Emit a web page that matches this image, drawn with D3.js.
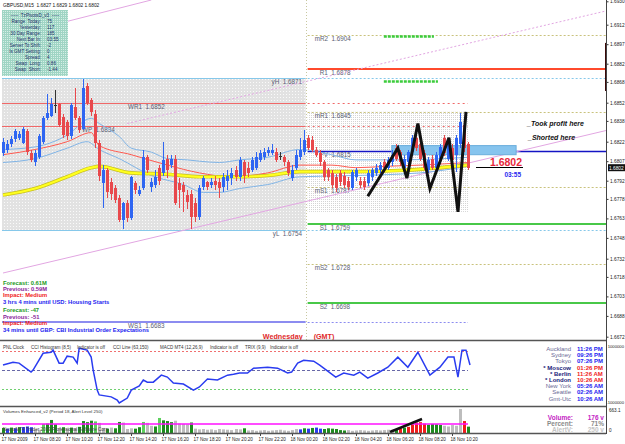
<!DOCTYPE html>
<html>
<head>
<meta charset="utf-8">
<script src="https://cdn.jsdelivr.net/npm/d3@7"></script>
<style>
  html, body { margin: 0; padding: 0; background: #fff; }
  svg { display: block; font-family: "Liberation Sans", Arial, sans-serif; }
</style>
</head>
<body>
<div id="chart"></div>
<script>
/* GBPUSD M15 with TzPivots, clocks and volume panes */

// ---- data -------------------------------------------------------------
// [open, high, low, close], one row per 15 min bar
const candles = [
  [1.6813,1.6825,1.6811,1.6822],[1.6816,1.6823,1.6813,1.6820],[1.6820,1.6826,1.6818,1.6824],[1.6824,1.6832,1.6822,1.6830],
  [1.6825,1.6830,1.6823,1.6828],[1.6821,1.6833,1.6820,1.6832],[1.6830,1.6832,1.6812,1.6814],[1.6813,1.6816,1.6806,1.6808],
  [1.6806,1.6816,1.6803,1.6813],[1.6810,1.6828,1.6809,1.6826],[1.6822,1.6842,1.6820,1.6840],[1.6840,1.6859,1.6839,1.6844],
  [1.6842,1.6856,1.6841,1.6851],[1.6850,1.6862,1.6844,1.6850],[1.6851,1.6852,1.6833,1.6835],[1.6841,1.6843,1.6825,1.6827],
  [1.6837,1.6839,1.6823,1.6826],[1.6826,1.6852,1.6824,1.6850],[1.6849,1.6863,1.6839,1.6840],[1.6840,1.6842,1.6829,1.6831],
  [1.6832,1.6870,1.6831,1.6863],[1.6865,1.6867,1.6850,1.6852],[1.6854,1.6856,1.6842,1.6845],[1.6843,1.6846,1.6817,1.6821],
  [1.6821,1.6823,1.6792,1.6796],[1.6790,1.6804,1.6771,1.6800],[1.6800,1.6802,1.6779,1.6783],[1.6791,1.6794,1.6777,1.6782],
  [1.6786,1.6789,1.6775,1.6777],[1.6779,1.6781,1.6760,1.6762],[1.6762,1.6776,1.6755,1.6775],[1.6775,1.6777,1.6760,1.6763],
  [1.6763,1.6796,1.6762,1.6795],[1.6790,1.6792,1.6782,1.6785],[1.6782,1.6788,1.6780,1.6785],[1.6786,1.6816,1.6785,1.6810],
  [1.6810,1.6812,1.6798,1.6800],[1.6787,1.6794,1.6783,1.6791],[1.6789,1.6800,1.6786,1.6795],[1.6802,1.6804,1.6789,1.6792],
  [1.6798,1.6822,1.6796,1.6808],[1.6809,1.6812,1.6794,1.6800],[1.6804,1.6812,1.6802,1.6809],[1.6809,1.6812,1.6773,1.6775],
  [1.6790,1.6794,1.6771,1.6785],[1.6789,1.6791,1.6768,1.6783],[1.6781,1.6785,1.6770,1.6776],[1.6782,1.6785,1.6755,1.6764],
  [1.6775,1.6779,1.6760,1.6764],[1.6764,1.6789,1.6762,1.6786],[1.6787,1.6796,1.6785,1.6794],[1.6791,1.6792,1.6785,1.6787],
  [1.6789,1.6794,1.6786,1.6791],[1.6792,1.6796,1.6785,1.6789],[1.6791,1.6794,1.6779,1.6786],[1.6787,1.6798,1.6783,1.6795],
  [1.6792,1.6800,1.6785,1.6796],[1.6794,1.6802,1.6789,1.6798],[1.6800,1.6803,1.6792,1.6795],[1.6795,1.6810,1.6792,1.6808],
  [1.6806,1.6808,1.6790,1.6796],[1.6802,1.6806,1.6795,1.6798],[1.6800,1.6810,1.6799,1.6808],[1.6802,1.6814,1.6800,1.6810],
  [1.6808,1.6816,1.6806,1.6813],[1.6810,1.6817,1.6808,1.6814],[1.6813,1.6818,1.6811,1.6816],[1.6813,1.6820,1.6812,1.6816],
  [1.6814,1.6817,1.6806,1.6808],[1.6811,1.6814,1.6808,1.6811],[1.6810,1.6812,1.6803,1.6806],[1.6806,1.6808,1.6796,1.6798],
  [1.6794,1.6804,1.6792,1.6800],[1.6802,1.6816,1.6800,1.6812],[1.6810,1.6825,1.6808,1.6816],[1.6814,1.6831,1.6812,1.6823],
  [1.6825,1.6827,1.6816,1.6817],[1.6823,1.6826,1.6814,1.6816],[1.6816,1.6818,1.6810,1.6812],[1.6813,1.6816,1.6803,1.6806],
  [1.6806,1.6808,1.6792,1.6795],[1.6800,1.6802,1.6792,1.6795],[1.6798,1.6800,1.6786,1.6789],[1.6795,1.6797,1.6783,1.6786],
  [1.6798,1.6800,1.6788,1.6791],[1.6796,1.6799,1.6786,1.6789],[1.6792,1.6795,1.6785,1.6787],[1.6786,1.6800,1.6785,1.6799],
  [1.6795,1.6802,1.6792,1.6800],[1.6792,1.6795,1.6786,1.6789],[1.6792,1.6795,1.6785,1.6787],[1.6790,1.6800,1.6788,1.6798],
  [1.6795,1.6802,1.6792,1.6800],[1.6798,1.6805,1.6796,1.6802],[1.6800,1.6806,1.6798,1.6804],[1.6806,1.6809,1.6800,1.6802],
  [1.6802,1.6810,1.6800,1.6808],[1.6806,1.6816,1.6803,1.6812],[1.6817,1.6820,1.6807,1.6809],[1.6814,1.6816,1.6803,1.6806],
  [1.6802,1.6812,1.6800,1.6809],[1.6806,1.6816,1.6803,1.6814],[1.6814,1.6827,1.6812,1.6825],[1.6825,1.6827,1.6815,1.6817],
  [1.6820,1.6822,1.6807,1.6809],[1.6813,1.6816,1.6800,1.6802],[1.6800,1.6810,1.6798,1.6808],[1.6809,1.6812,1.6800,1.6802],
  [1.6802,1.6814,1.6800,1.6812],[1.6809,1.6820,1.6807,1.6818],[1.6825,1.6827,1.6811,1.6813],[1.6809,1.6822,1.6807,1.6820],
  [1.6817,1.6820,1.6806,1.6808],[1.6812,1.6827,1.6799,1.6825],[1.6820,1.6844,1.6817,1.6837],[1.6835,1.6837,1.6814,1.6817],
  [1.6820,1.6822,1.6800,1.6802]
];

const timeTickBars = [0, 8, 16, 24, 32, 40, 48, 56, 64, 72, 80, 88, 96, 104, 112];
const timeTickLabels = ["17 Nov 2009", "17 Nov 08:20", "17 Nov 10:20", "17 Nov 12:20", "17 Nov 14:20",
  "17 Nov 16:20", "17 Nov 18:20", "17 Nov 20:20", "17 Nov 22:20", "18 Nov 00:20", "18 Nov 02:20",
  "18 Nov 04:20", "18 Nov 06:20", "18 Nov 08:20", "18 Nov 10:20"];
const priceTicks = [1.6930, 1.6912, 1.6897, 1.6882, 1.6868, 1.6852, 1.6838, 1.6822, 1.6807, 1.6792,
  1.6778, 1.6763, 1.6748, 1.6732, 1.6718, 1.6703, 1.6688, 1.6672];
const dayBreakBar = 75.5;

// today's pivots (TzPivotsD)
const pivotNames = ["mR2", "R1", "mR1", "PV", "mS1", "S1", "mS2", "S2"];
const pivotValues = [1.6904, 1.6878, 1.6845, 1.6815, 1.6787, 1.6759, 1.6728, 1.6698];
// yesterday / weekly levels
const prevNames = ["yH", "WR1", "WP", "yL", "WS1"];
const prevValues = [1.6871, 1.6852, 1.6834, 1.6754, 1.6683];
const todayRange = [1.6845, 1.6768];

// moving averages, read as [bar, price]
const maSlow = [[0,1.6781],[8,1.6786],[16,1.6795],[22,1.6802],[24,1.6803],[32,1.6798],[41,1.6797],[49,1.6795],
  [58,1.6795],[66,1.6796],[74,1.6799],[88,1.6799],[100,1.6800],[116,1.6804]];
const maMid = [[0,1.6812],[8,1.6816],[16,1.6822],[22,1.6829],[24,1.6819],[32,1.6812],[41,1.6804],[49,1.6798],
  [57,1.6795],[66,1.6798],[74,1.6804],[82,1.6804],[88,1.6802],[95,1.6803],[104,1.6804],[116,1.6806]];
const bandUpper = [[0,1.6816],[8,1.6818],[16,1.6827],[22,1.6840],[24,1.6836],[29,1.6826],[32,1.6817],[37,1.6814],
  [41,1.6809],[46,1.6808],[49,1.6807],[54,1.6806],[59,1.6808],[66,1.6810],[74,1.6816],[82,1.6812],[88,1.6808],
  [99,1.6808],[116,1.6810]];
const bandLower = [[0,1.6806],[8,1.6809],[16,1.6817],[21,1.6822],[24,1.6816],[29,1.6809],[37,1.6796],[45,1.6789],
  [50,1.6783],[54,1.6783],[59,1.6786],[66,1.6789],[74,1.6795],[88,1.6796],[104,1.6798],[116,1.6803]];

// drawn objects
const trendUpper = [[31, 1.6836], [151, 1.6923]];
const trendLower = [[0, 1.6721], [151, 1.6831]];
const trendTop = [[0, 1.6902], [37, 1.6931]];
const zigzag = [[91,1.6780],[98.5,1.6817],[100.75,1.6794],[103.5,1.6836],[106.5,1.6786],[111.25,1.6825],
  [113.5,1.6768],[115.5,1.6845]];
const targetSegments = [[95, 107.5, 1.6903], [95, 108.5, 1.6869]];
const entryZone = [97, 128, 1.6819, 1.6812];
const rangeBar = [1.6898, 1.6861];

// lower pane: CCI line, [bar, value]
const cciPoints = [[0,26],[2.5,41],[4,36],[7,-10],[7.5,0],[10,87],[12,92],[12.5,103],[14,36],[15,36],[16,72],
  [17.5,67],[18.5,36],[19,113],[21,103],[22,67],[22.5,0],[23.5,-103],[24,-128],[27,-138],[28.5,-154],[29,-169],
  [31,-144],[32,-103],[34,-82],[35,-51],[36,-62],[37.5,-62],[39.5,-26],[41,-36],[42.5,-67],[45,-72],[47.5,-103],
  [49,-87],[51,-46],[53.5,-51],[56,-26],[57.5,-21],[59,-15],[61,-15],[62.5,10],[66,15],[68.5,10],[71,-15],
  [72,-10],[73.5,36],[75,51],[77.5,46],[79,26],[83,-36],[85,-15],[87.5,-26],[89,-10],[91,-41],[93.5,-15],
  [96,15],[98.5,67],[101,15],[103.5,92],[106.5,-26],[109,15],[111,67],[112.5,67],[113.5,-36],[114.5,103],
  [115.5,103],[116.5,26]];
const cciLevels = [100, 0, -100];

// volumes and their class (g up, l light up, b blue, s small, r down)
const volumes = [140,120,150,130,160,165,180,160,100,90,250,260,360,240,140,160,120,150,130,170,
  330,300,340,320,280,140,120,150,130,305,290,110,130,120,160,305,280,200,180,415,350,330,300,340,
  260,250,240,290,120,100,110,90,100,80,110,100,90,80,110,100,130,70,80,60,70,80,60,70,80,90,70,
  60,80,110,100,130,120,140,150,120,110,130,120,110,80,70,80,60,70,80,70,60,70,80,70,80,90,90,110,
  130,150,170,240,290,300,260,230,250,240,220,200,180,220,200,663,330,176];
const volClass = "gbgbgbbbsslgggsgsgsgggglssgsggsssgglssglgggssssgssssssssssssgsssssssssssssbgbgbbggggggssssssssssssgrgrrrrrggggsssssrgs".split("");
const alertLevel = 250;

// text panels
const infoLabels = ["Range  Today:", "Yesterday:", "30 Day Range:", "Next Bar In:", "Server To Shift:",
  "Is GMT Setting:", "Spread:", "Swap  Long:", "Swap  Short:"];
const infoValues = ["75", "117", "185", "03:55", "-2", "0", "4", "0.86", "-1.44"];
const newsLines = ["Forecast: 0.61M", "Previous: 0.59M", "Impact: Medium", "3 hrs 4 mins until USD: Housing Starts",
  "Forecast: -47", "Previous: -51", "Impact: Medium", "34 mins until GBP: CBI Industrial Order Expectations"];
const newsKinds = ["f", "p", "i", "e", "f", "p", "i", "e"];
const clockCities = ["Auckland", "Sydney", "Tokyo", "* Moscow", "* Berlin", "* London", "New York", "Seattle", "Gmt-Utc"];
const clockTimes = ["11:26 PM", "09:26 PM", "07:26 PM", "01:26 PM", "11:26 AM", "10:26 AM", "05:26 AM", "02:26 AM", "10:26 AM"];
const paneTitles = ["PNL Clock", "CCI Histogram (8,5)", "Indicator is off", "CCI Line (63,150)",
  "MACD MT4 (12,26,9)", "Indicator is off", "TRIX (9,9)", "Indicator is off"];
const volStatNames = ["Volume:", "Percent:", "AlertV:"];
const volStatValues = ["176 v", "71%", "250 v"];

// ---- layout -----------------------------------------------------------
const W = 625, H = 444;
const axisX = 606;
const mainBottom = 340, pane1 = [342, 405], pane2 = [409, 433];
const FONT = "'Liberation Sans', Arial, sans-serif";

const svg = d3.select("#chart").append("svg")
  .attr("width", W).attr("height", H)
  .style("font-family", FONT);
const defs = svg.append("defs");

function dots(id, bg, dot, step) {
  const p = defs.append("pattern").attr("id", id)
    .attr("width", step).attr("height", step).attr("patternUnits", "userSpaceOnUse");
  p.append("rect").attr("width", step).attr("height", step).attr("fill", bg);
  p.append("rect").attr("x", 1).attr("y", 1).attr("width", 1).attr("height", 1).attr("fill", dot);
}
dots("ydayFill", "#e2e2e2", "#fafafa", 3);
dots("todayFill", "#ffffff", "#d4d4d4", 2);
dots("infoFill", "#9fd5c4", "#d6efe7", 2);

defs.append("clipPath").attr("id", "mainClip")
  .append("rect").attr("x", 0).attr("y", 0).attr("width", axisX).attr("height", mainBottom);

const x = d3.scaleLinear().domain([0, candles.length - 1]).range([3, 468]);
const y = d3.scaleLinear().domain([1.6672, 1.6930]).range([336.7, 1.3]);
const yCci = d3.scaleLinear().domain([-180, 145]).range([pane1[1], pane1[0]]);
const yVol = d3.scaleLinear().domain([0, 663]).range([pane2[1], pane2[0]]);

const main = svg.append("g").attr("clip-path", "url(#mainClip)");
const sepX = x(dayBreakBar);
const lastX = x(candles.length - 1);

// Range boxes
main.append("rect")
  .attr("x", x(-0.25)).attr("y", y(prevValues[0]))
  .attr("width", sepX - x(-0.25)).attr("height", y(prevValues[3]) - y(prevValues[0]))
  .attr("fill", "url(#ydayFill)");
main.append("rect")
  .attr("x", sepX + 2).attr("y", y(todayRange[0]))
  .attr("width", lastX - sepX - 2).attr("height", y(todayRange[1]) - y(todayRange[0]))
  .attr("fill", "url(#todayFill)");

// Day separator
main.append("line")
  .attr("x1", Math.round(sepX) + 0.5).attr("x2", Math.round(sepX) + 0.5)
  .attr("y1", 0).attr("y2", mainBottom)
  .attr("stroke", "#c8c8a0").attr("stroke-dasharray", "1,2");

function hline(v, x0, x1, color, width, dash) {
  const yy = Math.round(y(v)) + (width % 2 ? 0.5 : 0);
  main.append("line")
    .attr("x1", x0).attr("x2", x1).attr("y1", yy).attr("y2", yy)
    .attr("stroke", color).attr("stroke-width", width)
    .attr("stroke-dasharray", dash || null);
}
function levelLabel(txt, v, xx, anchor) {
  main.append("text")
    .attr("x", xx).attr("y", Math.round(y(v)) + 6)
    .attr("text-anchor", anchor || "start")
    .attr("font-size", 6.3).attr("fill", "#5a6074")
    .attr("xml:space", "preserve")
    .text(txt);
}

// Yesterday / weekly levels
const prevStyle = {
  yH: { c: "#86c8ea", w: 1, far: axisX, farDash: "2,2" },
  yL: { c: "#86c8ea", w: 1, far: axisX, farDash: "2,2" },
  WR1: { c: "#f06868", w: 1, far: lastX, farDash: "2,3" },
  WP: { c: "#f06868", w: 1, far: lastX, farDash: "2,3" },
  WS1: { c: "#8c8cf0", w: 2, far: lastX, farDash: "2,2" }
};
const prevLabelPos = { yH: [302, "end"], yL: [302, "end"], WR1: [128, "start"], WP: [82, "start"], WS1: [128, "start"] };
prevNames.forEach((n, i) => {
  const s = prevStyle[n];
  hline(prevValues[i], x(-0.25), sepX, s.c, s.w);
  hline(prevValues[i], sepX + 2, s.far, s.c, 1, s.farDash);
  levelLabel(`${n}  ${prevValues[i].toFixed(4)}`, prevValues[i], prevLabelPos[n][0], prevLabelPos[n][1]);
});

// Today's pivot levels
const khaki = { c: "#c9c27c", w: 1, dash: "2,2" };
const pivotStyle = {
  mR2: khaki, mR1: khaki, mS1: khaki, mS2: khaki,
  R1: { c: "#ff4a2c", w: 2 },
  PV: { c: "#1414c4", w: 1.5 },
  S1: { c: "#48c848", w: 2 },
  S2: { c: "#48c848", w: 2 }
};
pivotNames.forEach((n, i) => {
  const s = pivotStyle[n];
  hline(pivotValues[i], sepX + 2, axisX, s.c, s.w, s.dash);
  levelLabel(`${n}  ${pivotValues[i].toFixed(4)}`, pivotValues[i], n[0] === "m" ? sepX + 9 : sepX + 14);
});

// Trend lines
function seg(pts, color, dash, width) {
  main.append("line")
    .attr("x1", x(pts[0][0])).attr("y1", y(pts[0][1]))
    .attr("x2", x(pts[1][0])).attr("y2", y(pts[1][1]))
    .attr("stroke", color).attr("stroke-width", width || 1)
    .attr("stroke-dasharray", dash || null);
}
seg(trendUpper, "#e2a6e2", "2,2");
seg(trendLower, "#e2a6e2");
seg(trendTop, "#e2a6e2");

// Entry zone
main.append("rect")
  .attr("x", x(entryZone[0])).attr("y", y(entryZone[2]))
  .attr("width", x(entryZone[1]) - x(entryZone[0]))
  .attr("height", y(entryZone[3]) - y(entryZone[2]))
  .attr("fill", "#86c4ee").attr("stroke", "#6aaedc");

// Target marks
targetSegments.forEach(t => {
  hline(t[2], x(t[0]), x(t[1]), "#3ccc3c", 2.5, "3,1");
});

// Moving averages
const maLine = d3.line().x(d => x(d[0])).y(d => y(d[1])).curve(d3.curveMonotoneX);
[[bandUpper, "#80b4e6", 1], [bandLower, "#80b4e6", 1], [maMid, "#ff5a50", 1]].forEach(([pts, c, w]) => {
  main.append("path").datum(pts).attr("d", maLine)
    .attr("fill", "none").attr("stroke", c).attr("stroke-width", w);
});
main.append("path").datum(maSlow).attr("d", maLine)
  .attr("fill", "none").attr("stroke", "#c8c020").attr("stroke-width", 3.6);
main.append("path").datum(maSlow).attr("d", maLine)
  .attr("fill", "none").attr("stroke", "#ffff1e").attr("stroke-width", 2.2);

// Candles
const bull = "#2f66f2", bear = "#e8484c";
const cg = main.append("g");
candles.forEach((c, i) => {
  const [o, h, l, cl] = c;
  const col = cl > o ? bull : cl < o ? bear : "#333";
  const cx = Math.round(x(i));
  cg.append("line")
    .attr("x1", cx + 0.5).attr("x2", cx + 0.5)
    .attr("y1", Math.round(y(h))).attr("y2", Math.round(y(l)))
    .attr("stroke", col);
  const top = Math.round(y(Math.max(o, cl))), bot = Math.round(y(Math.min(o, cl)));
  cg.append("rect")
    .attr("x", cx - 1).attr("y", top)
    .attr("width", 3).attr("height", Math.max(1, bot - top))
    .attr("fill", col);
});

// Zigzag drawing
main.append("path")
  .datum(zigzag)
  .attr("d", d3.line().x(d => x(d[0])).y(d => y(d[1])))
  .attr("fill", "none").attr("stroke", "#111").attr("stroke-width", 3)
  .attr("stroke-linejoin", "miter");

// Annotations
const last = candles[candles.length - 1][3];
main.append("line")
  .attr("x1", 476).attr("x2", 523).attr("y1", Math.round(y(last)) - 0.5).attr("y2", Math.round(y(last)) - 0.5)
  .attr("stroke", "#000");
main.append("text").attr("x", 522).attr("y", Math.round(y(last)) - 2)
  .attr("text-anchor", "end").attr("font-size", 10.5).attr("font-weight", "bold")
  .attr("fill", "#e8283c").text(last.toFixed(4));
main.append("text").attr("x", 521).attr("y", Math.round(y(last)) + 9)
  .attr("text-anchor", "end").attr("font-size", 6.5).attr("font-weight", "bold")
  .attr("fill", "#2828f0").text(infoValues[3]);
[["_Took profit here", 527, 126], ["_Shorted here", 528, 140]].forEach(([t, tx, ty]) => {
  main.append("text").attr("x", tx).attr("y", ty)
    .attr("font-size", 7).attr("font-weight", "bold").attr("font-style", "italic")
    .attr("fill", "#111").text(t);
});

// Day label
main.append("text").attr("x", sepX - 3).attr("y", 339)
  .attr("text-anchor", "end").attr("font-size", 7.2).attr("font-weight", "bold")
  .attr("fill", "#e02a2a").text("Wednesday");
main.append("text").attr("x", sepX + 8).attr("y", 339)
  .attr("font-size", 7.2).attr("font-weight", "bold")
  .attr("fill", "#e02a2a").text("(GMT)");

// News panel
const newsColor = { f: "#1c9a1c", p: "#8a1c9a", i: "#f01c1c", e: "#1c1cf0" };
const newsY = [283, 289, 295, 302, 310, 317, 323, 330];
newsLines.forEach((t, i) => {
  main.append("text").attr("x", 3).attr("y", newsY[i] + 2)
    .attr("font-size", 5.8).attr("font-weight", "bold")
    .attr("fill", newsColor[newsKinds[i]]).text(t);
});

// Info box
svg.append("rect").attr("x", 2).attr("y", 10).attr("width", 66).attr("height", 66)
  .attr("fill", "url(#infoFill)");
svg.append("text").attr("x", 35).attr("y", 16.5).attr("text-anchor", "middle")
  .attr("font-size", 4.6).attr("fill", "#24306a").attr("xml:space", "preserve")
  .text("-----  TzPivotsD_v3  -----");
infoLabels.forEach((t, i) => {
  const ty = 23 + i * 6;
  svg.append("text").attr("x", 41).attr("y", ty).attr("text-anchor", "end")
    .attr("font-size", 4.6).attr("fill", "#24306a").attr("xml:space", "preserve").text(t);
  svg.append("text").attr("x", 47).attr("y", ty)
    .attr("font-size", 4.6).attr("fill", "#24306a").text(infoValues[i]);
});

// Header
svg.append("text").attr("x", 3).attr("y", 7).attr("font-size", 4.8).attr("fill", "#111")
  .attr("xml:space", "preserve").text("GBPUSD,M15  1.6827 1.6829 1.6802 1.6802");

// Right price axis
svg.append("g").attr("transform", `translate(${axisX + 0.5},0)`)
  .call(d3.axisRight(y).tickValues(priceTicks).tickSize(2).tickFormat(d3.format(".4f")))
  .call(g => g.select(".domain").remove())
  .call(g => g.selectAll("line").attr("stroke", "#333"))
  .call(g => g.selectAll("text").attr("font-size", 4.8).attr("fill", "#222").attr("x", 3.5)
    .attr("font-family", FONT));
svg.append("rect").attr("x", axisX - 1).attr("y", y(rangeBar[0]))
  .attr("width", 2).attr("height", y(rangeBar[1]) - y(rangeBar[0])).attr("fill", "#3a0a0a");
svg.append("rect").attr("x", axisX + 2).attr("y", y(last) - 3.5).attr("width", 17).attr("height", 7).attr("fill", "#111");
svg.append("text").attr("x", axisX + 3).attr("y", y(last) + 1.8).attr("font-size", 4.8)
  .attr("fill", "#fff").text(last.toFixed(4));

// ---- Pane 1: PNL clock / CCI -----------------------------------------
const p1 = svg.append("g");
const levelCols = ["#f07070", "#6868a8", "#70d070"];
cciLevels.forEach((v, i) => {
  const yy = Math.round(yCci(v)) + 0.5;
  p1.append("line").attr("x1", 2).attr("x2", lastX).attr("y1", yy).attr("y2", yy)
    .attr("stroke", levelCols[i]).attr("stroke-dasharray", i === 1 ? "3,2" : "2,2");
});
p1.append("path").datum(cciPoints)
  .attr("d", d3.line().x(d => x(d[0])).y(d => yCci(d[1])))
  .attr("fill", "none").attr("stroke", "#2a3cf0").attr("stroke-width", 1.5);
const titleX = [3, 31, 77, 113, 160, 210, 245, 270];
paneTitles.forEach((t, i) => {
  p1.append("text").attr("x", titleX[i]).attr("y", 348.5).attr("font-size", 4.5)
    .attr("fill", "#333").text(t);
});
clockCities.forEach((c, i) => {
  const ty = 351 + i * 6.2;
  const star = c.startsWith("*");
  p1.append("text").attr("x", 571).attr("y", ty).attr("text-anchor", "end")
    .attr("font-size", 6).attr("font-weight", star ? "bold" : "normal")
    .attr("fill", star ? "#1a1a7a" : "#6a6a96").text(c);
  p1.append("text").attr("x", 577).attr("y", ty)
    .attr("font-size", 6).attr("font-weight", "bold")
    .attr("fill", star ? "#f01c1c" : "#2424f0").text(clockTimes[i]);
});
p1.append("text").attr("x", 624).attr("y", 348).attr("text-anchor", "end")
  .attr("font-size", 4.2).attr("fill", "#222").text("1000000");
p1.append("text").attr("x", 624).attr("y", 404).attr("text-anchor", "end")
  .attr("font-size", 4.2).attr("fill", "#222").text("-1000000");

// ---- Pane 2: Volumes ---------------------------------------------------
const p2 = svg.append("g");
const volColor = { g: "#1e8a1e", l: "#5cd05c", b: "#2a3cf0", s: "#bdbdbd", r: "#f01c1c" };
volumes.forEach((v, i) => {
  const cx = Math.round(x(i));
  p2.append("rect").attr("x", cx - 1).attr("y", yVol(v))
    .attr("width", 3).attr("height", pane2[1] - yVol(v))
    .attr("fill", volColor[volClass[i]]);
});
p2.append("line").attr("x1", 2).attr("x2", lastX)
  .attr("y1", yVol(alertLevel)).attr("y2", yVol(alertLevel))
  .attr("stroke", "#ff10ff").attr("stroke-width", 1.5);
p2.append("line").attr("x1", 390).attr("y1", 432).attr("x2", 422).attr("y2", 419)
  .attr("stroke", "#111").attr("stroke-width", 2.5);
p2.append("text").attr("x", 3).attr("y", 413).attr("font-size", 4.4).attr("fill", "#333")
  .text("Volumes Enhanced_v2  (Period 18, Alert Level 250)");
p2.append("text").attr("x", 3).attr("y", 431).attr("font-size", 4.6).attr("fill", "#444")
  .text("NeuroMT4 Trader  2009 Professional Software Corp.");
const statCols = ["#c41cc4", "#8a8a8a", "#c4c4c4"];
volStatNames.forEach((t, i) => {
  const ty = 420 + i * 6;
  p2.append("text").attr("x", 573).attr("y", ty).attr("text-anchor", "end")
    .attr("font-size", 6.5).attr("font-weight", "bold").attr("fill", statCols[i]).text(t);
  p2.append("text").attr("x", 604).attr("y", ty).attr("text-anchor", "end")
    .attr("font-size", 6.5).attr("font-weight", "bold").attr("fill", statCols[i]).text(volStatValues[i]);
});
p2.append("text").attr("x", axisX + 3).attr("y", 412).attr("font-size", 4.6).attr("fill", "#222").text("663.1");
p2.append("text").attr("x", axisX + 3).attr("y", 432).attr("font-size", 4.6).attr("fill", "#222").text("0");

// ---- frame and time axis -----------------------------------------------
[mainBottom + 0.5, pane1[1] + 1.5, pane2[1] + 0.5].forEach(yy => {
  svg.append("line").attr("x1", 0).attr("x2", axisX).attr("y1", yy).attr("y2", yy)
    .attr("stroke", "#555").attr("stroke-width", 1.5);
});
svg.append("line").attr("x1", axisX + 0.5).attr("x2", axisX + 0.5).attr("y1", 0).attr("y2", pane2[1] + 1)
  .attr("stroke", "#444");
timeTickBars.forEach((b, i) => {
  const tx = Math.round(x(b)) + 0.5;
  svg.append("line").attr("x1", tx).attr("x2", tx).attr("y1", pane2[1] + 1).attr("y2", pane2[1] + 3)
    .attr("stroke", "#444");
  svg.append("text").attr("x", tx - 2).attr("y", 440.5).attr("font-size", 4.6)
    .attr("fill", "#222").text(timeTickLabels[i]);
});
</script>
</body>
</html>
